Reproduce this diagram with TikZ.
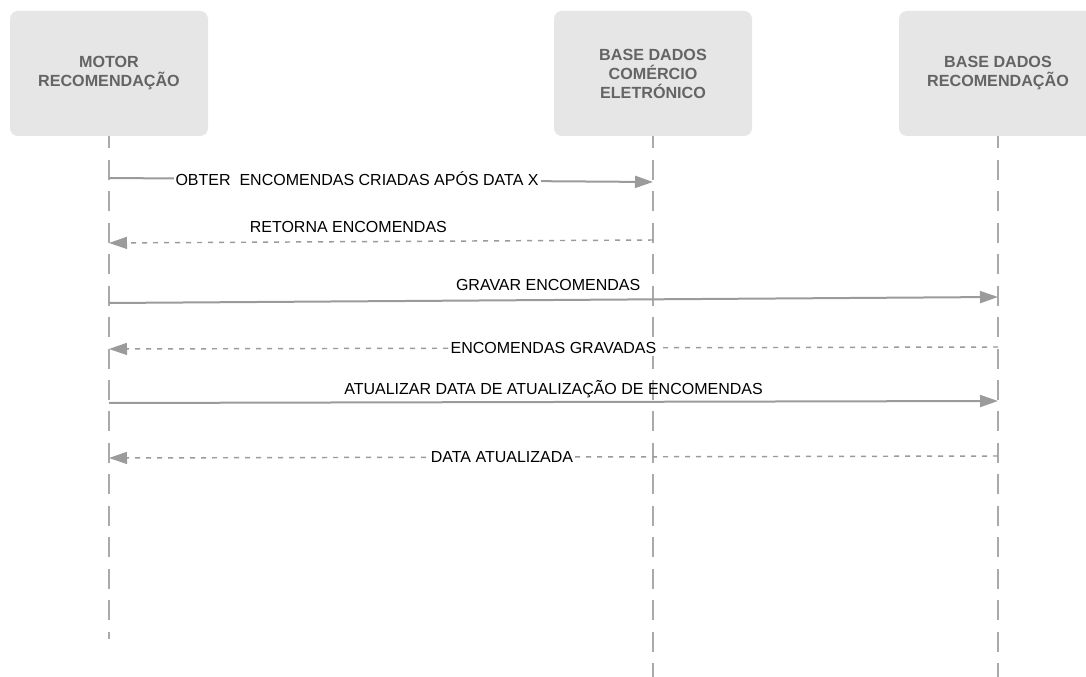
\documentclass[tikz,border=0pt]{standalone}
\usepackage{fontspec}
\setmainfont{Liberation Sans}
\usetikzlibrary{arrows.meta}
\definecolor{boxfill}{RGB}{230,230,230}
\definecolor{boxtext}{RGB}{100,100,100}
\definecolor{lifecol}{RGB}{170,170,170}
\definecolor{msgcol}{RGB}{155,155,155}
\begin{document}
\begin{tikzpicture}[x=0.75pt,y=-0.75pt,
 actor/.style={rectangle, rounded corners=6pt, fill=boxfill, minimum width=148.5pt, minimum height=93.75pt, inner sep=0pt, align=center, font=\bfseries\fontsize{12.1}{14.25}\selectfont, text=boxtext},
 lifeline/.style={draw=lifecol, line width=1.5pt, dash pattern=on 15pt off 8.6pt, dash phase=6pt},
 callmsg/.style={draw=msgcol, line width=1.5pt, -{Triangle[length=13.5pt,width=9pt]}},
 retmsg/.style={draw=msgcol, line width=1.1pt, dash pattern=on 3.75pt off 4.5pt, -{Triangle[length=13.5pt,width=9pt]}},
 lbl/.style={font=\fontsize{12}{14}\selectfont, text=black, inner sep=0pt, text height=8.6pt, text depth=0pt},
 onlbl/.style={lbl, fill=white, inner xsep=1.5pt, inner ysep=2pt},
]
\clip (0,0) rectangle (1086,677);
\fill[white] (0,0) rectangle (1086,677);

% actors
\node[actor] (a1) at (109,73.5) {MOTOR\\RECOMENDAÇÃO};
\node[actor] (a2) at (653,73.5) {BASE DADOS\\COMÉRCIO\\ELETRÓNICO};
\node[actor] (a3) at (998,73.5) {BASE DADOS\\RECOMENDAÇÃO};

% lifeline ends
\coordinate (e1) at (109,639);
\coordinate (e2) at (653,677);
\coordinate (e3) at (998,677);
\draw[lifeline] (a1.south) -- (e1);
\draw[lifeline] (a2.south) -- (e2);
\draw[lifeline] (a3.south) -- (e3);

% message points
\coordinate (m1a) at (109,178); \coordinate (m1b) at (653,182);
\coordinate (m2a) at (653,240); \coordinate (m2b) at (109,243);
\coordinate (m3a) at (109,303); \coordinate (m3b) at (998,297);
\coordinate (m4a) at (998,347); \coordinate (m4b) at (109,349);
\coordinate (m5a) at (109,403); \coordinate (m5b) at (998,401);
\coordinate (m6a) at (998,456); \coordinate (m6b) at (109,458);

\draw[callmsg] (m1a) -- node[onlbl, pos=.456] (t1) {OBTER\ \ ENCOMENDAS CRIADAS APÓS DATA X} (m1b);
\draw[retmsg] (m2a) -- node[lbl, pos=.56, yshift=11.5pt] (t2) {RETORNA ENCOMENDAS} (m2b);
\draw[callmsg] (m3a) -- node[lbl, pos=.494, yshift=11.5pt] (t3) {GRAVAR ENCOMENDAS} (m3b);
\draw[retmsg] (m4a) -- node[onlbl, pos=.5] (t4) {ENCOMENDAS GRAVADAS} (m4b);
\draw[callmsg] (m5a) -- node[lbl, pos=.5, yshift=10pt] (t5) {ATUALIZAR DATA DE ATUALIZAÇÃO DE ENCOMENDAS} (m5b);
\draw[retmsg] (m6a) -- node[onlbl, pos=.558] (t6) {DATA ATUALIZADA} (m6b);
\end{tikzpicture}
\end{document}
